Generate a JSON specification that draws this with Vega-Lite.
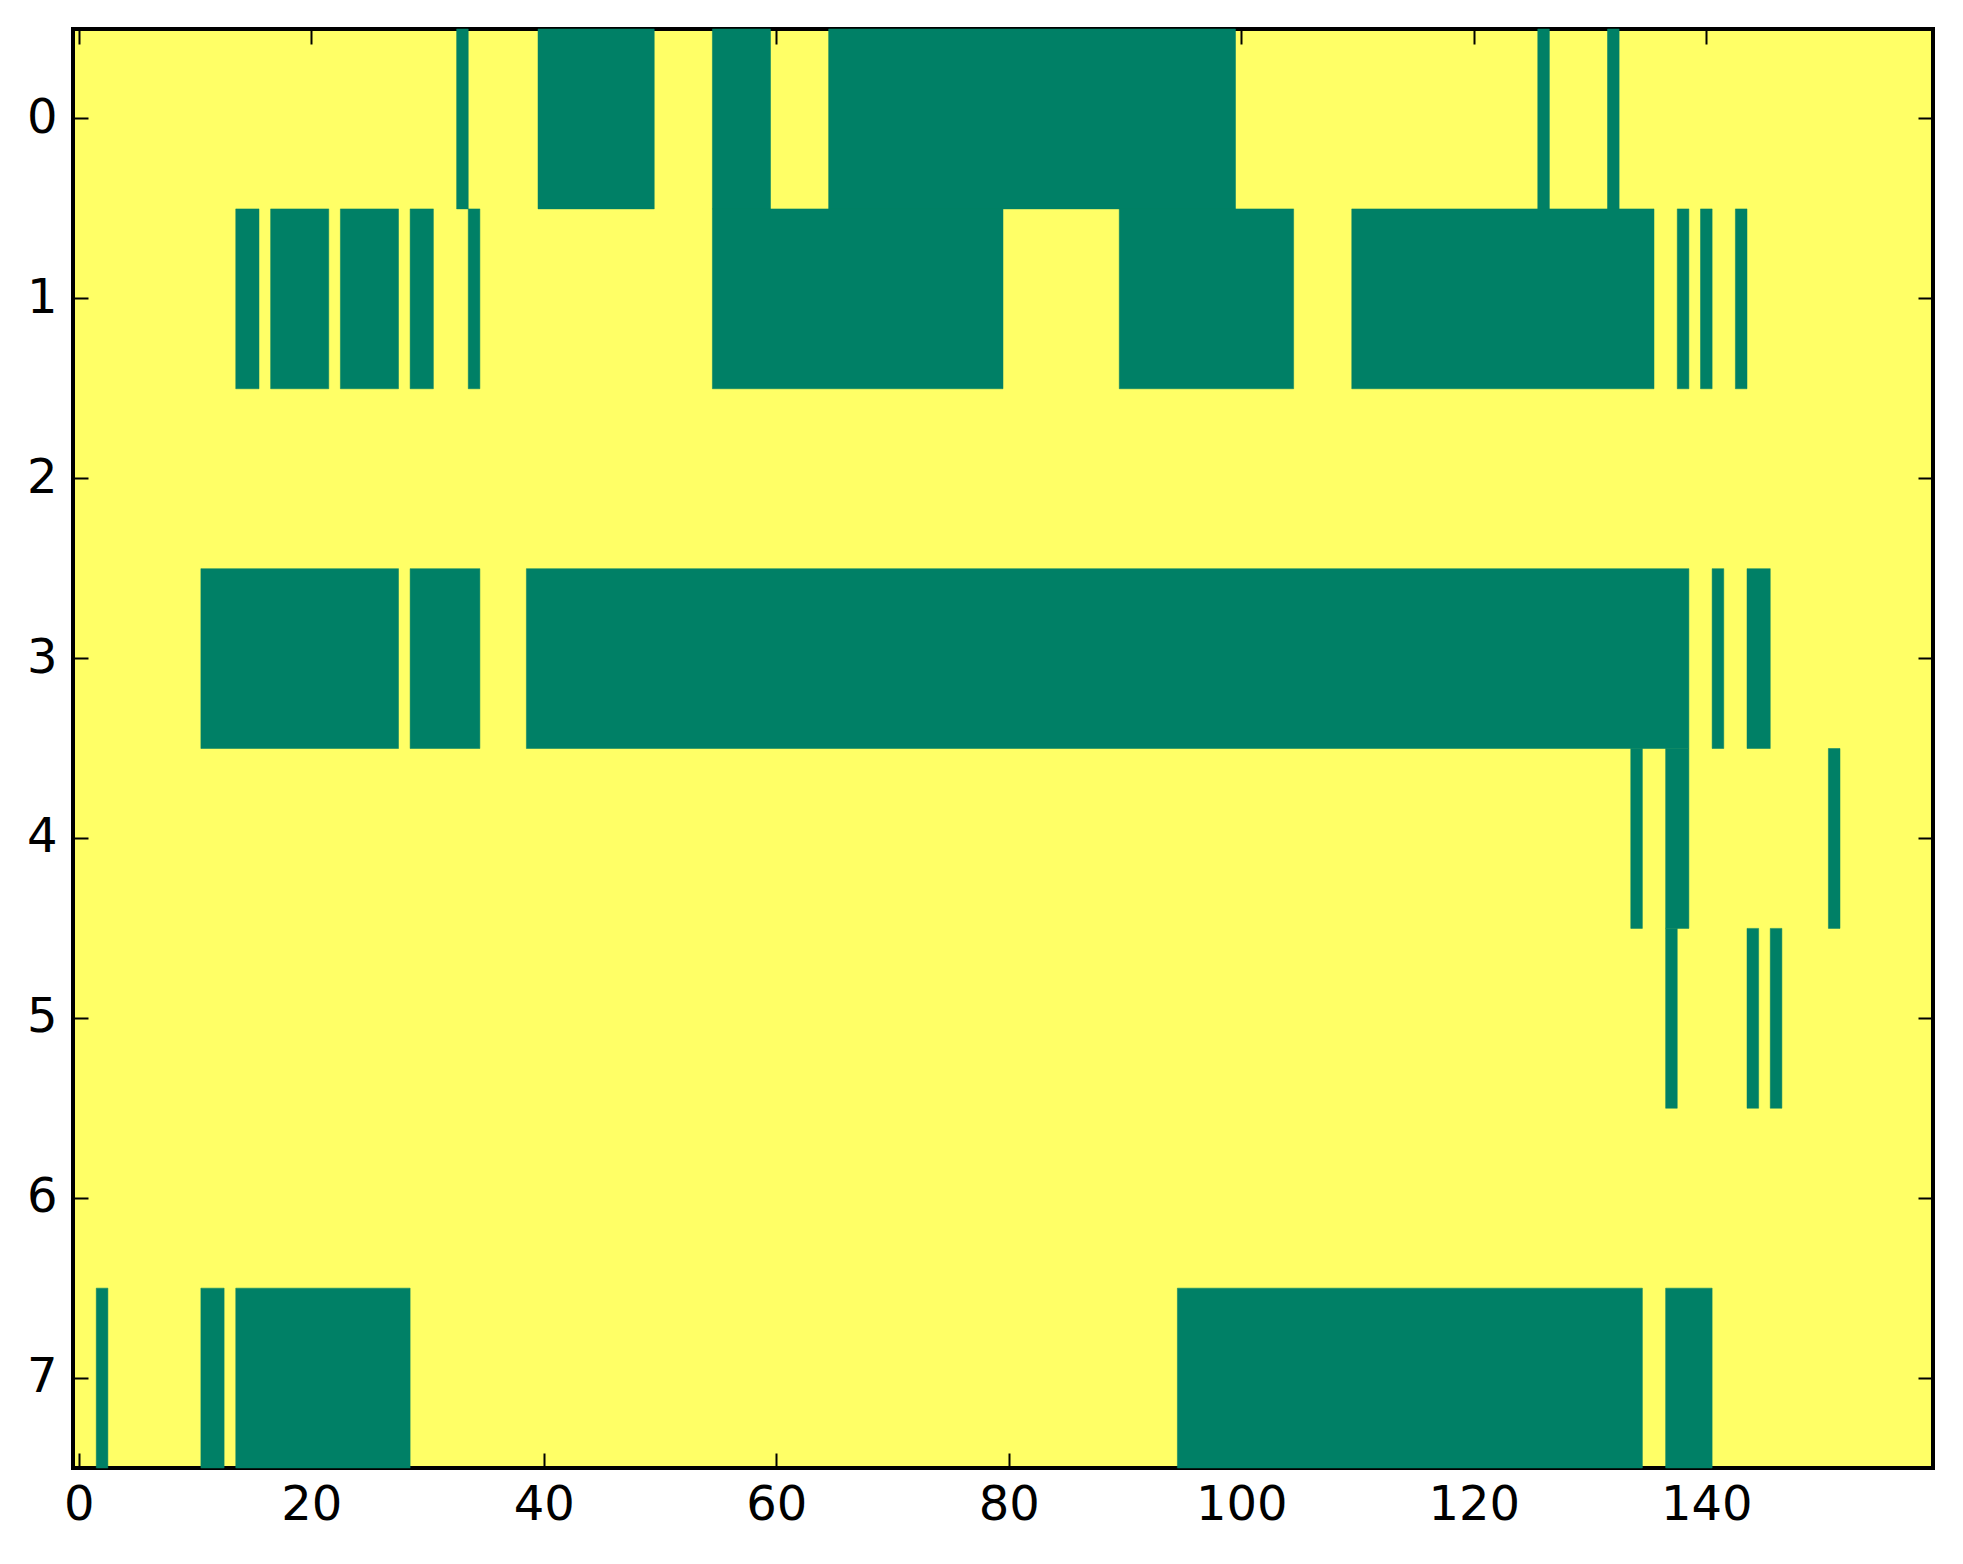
{
  "$schema": "https://vega.github.io/schema/vega-lite/v6.json",
  "autosize": "none",
  "padding": {"left": 73, "top": 29, "right": 30, "bottom": 96},
  "width": 1860,
  "height": 1439,
  "background": "white",
  "data": {
    "values": [
      {"row": 0, "start": 32.5, "end": 33.5},
      {"row": 0, "start": 39.5, "end": 49.5},
      {"row": 0, "start": 54.5, "end": 59.5},
      {"row": 0, "start": 64.5, "end": 99.5},
      {"row": 0, "start": 125.5, "end": 126.5},
      {"row": 0, "start": 131.5, "end": 132.5},
      {"row": 1, "start": 13.5, "end": 15.5},
      {"row": 1, "start": 16.5, "end": 21.5},
      {"row": 1, "start": 22.5, "end": 27.5},
      {"row": 1, "start": 28.5, "end": 30.5},
      {"row": 1, "start": 33.5, "end": 34.5},
      {"row": 1, "start": 54.5, "end": 79.5},
      {"row": 1, "start": 89.5, "end": 104.5},
      {"row": 1, "start": 109.5, "end": 135.5},
      {"row": 1, "start": 137.5, "end": 138.5},
      {"row": 1, "start": 139.5, "end": 140.5},
      {"row": 1, "start": 142.5, "end": 143.5},
      {"row": 3, "start": 10.5, "end": 27.5},
      {"row": 3, "start": 28.5, "end": 34.5},
      {"row": 3, "start": 38.5, "end": 138.5},
      {"row": 3, "start": 140.5, "end": 141.5},
      {"row": 3, "start": 143.5, "end": 145.5},
      {"row": 4, "start": 133.5, "end": 134.5},
      {"row": 4, "start": 136.5, "end": 138.5},
      {"row": 4, "start": 150.5, "end": 151.5},
      {"row": 5, "start": 136.5, "end": 137.5},
      {"row": 5, "start": 143.5, "end": 144.5},
      {"row": 5, "start": 145.5, "end": 146.5},
      {"row": 7, "start": 1.5, "end": 2.5},
      {"row": 7, "start": 10.5, "end": 12.5},
      {"row": 7, "start": 13.5, "end": 28.5},
      {"row": 7, "start": 94.5, "end": 134.5},
      {"row": 7, "start": 136.5, "end": 140.5}
    ]
  },
  "layer": [
    {
      "mark": {"type": "rect", "color": "#008066", "stroke": "#008066", "strokeWidth": 0.5},
      "encoding": {
        "x": {
          "field": "start",
          "type": "quantitative",
          "scale": {"domain": [-0.5, 159.5], "nice": false, "zero": false},
          "axis": {"orient": "bottom", "values": [0, 20, 40, 60, 80, 100, 120, 140], "title": null}
        },
        "x2": {"field": "end"},
        "y": {
          "field": "row",
          "type": "ordinal",
          "scale": {"domain": [0, 1, 2, 3, 4, 5, 6, 7], "paddingInner": 0, "paddingOuter": 0},
          "axis": {"orient": "left", "title": null, "labelAngle": 0}
        }
      }
    },
    {
      "mark": {"type": "rect", "opacity": 0},
      "encoding": {
        "x": {
          "field": "start",
          "type": "quantitative",
          "axis": {"orient": "top", "values": [0, 20, 40, 60, 80, 100, 120, 140], "labels": false, "title": null}
        },
        "x2": {"field": "end"},
        "y": {
          "field": "row",
          "type": "ordinal",
          "axis": {"orient": "right", "labels": false, "title": null}
        }
      }
    }
  ],
  "resolve": {"axis": {"x": "independent", "y": "independent"}},
  "config": {
    "view": {"fill": "#ffff66", "stroke": "black", "strokeWidth": 4},
    "axis": {
      "domain": false,
      "grid": false,
      "ticks": true,
      "tickSize": -15,
      "tickWidth": 2,
      "tickColor": "black",
      "labelFont": "DejaVu Sans",
      "labelFontSize": 48,
      "labelColor": "black"
    },
    "axisX": {"labelPadding": 28},
    "axisY": {"labelPadding": 31}
  }
}
